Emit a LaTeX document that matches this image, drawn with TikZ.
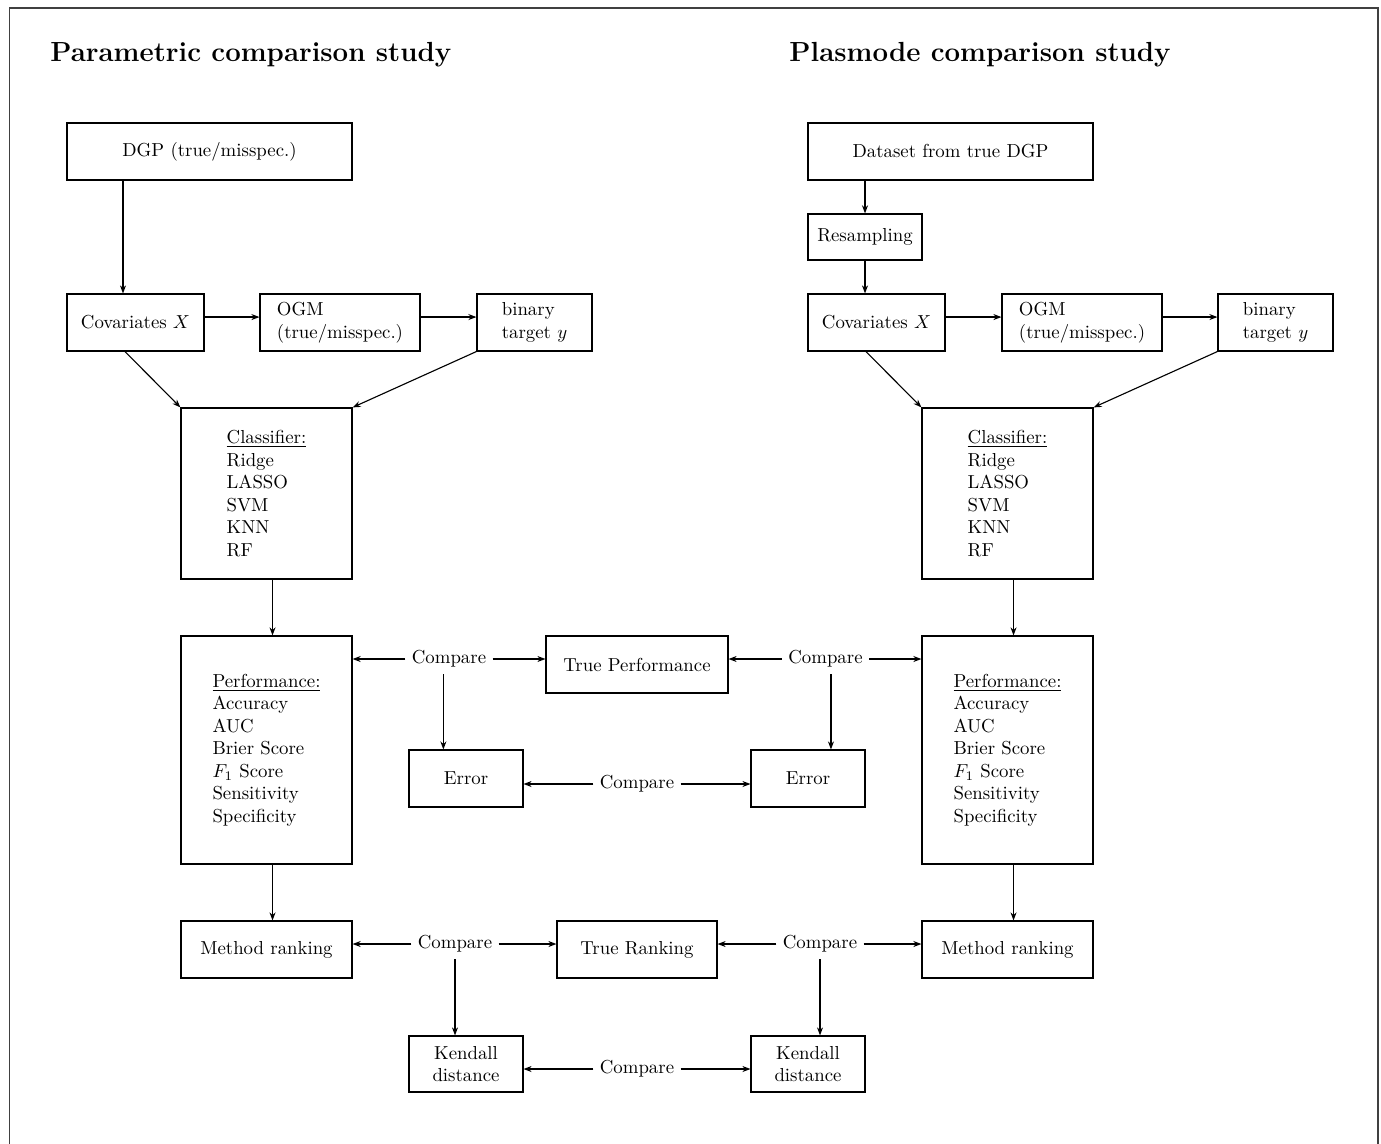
\documentclass[tikz,border=0pt]{standalone}
\usetikzlibrary{arrows.meta}
\begin{document}
\begin{tikzpicture}[x=0.532pt,y=-0.532pt,
  box/.style={draw,line width=0.6pt,inner sep=0pt,align=center},
  lbox/.style={box,align=left},
  arr/.style={-{Stealth[length=4.3pt,width=3.2pt]},line width=0.6pt},
  cmp/.style={inner sep=3.33pt},
  ttl/.style={font=\fontsize{14.7pt}{18pt}\selectfont\bfseries,inner sep=0pt,anchor=base west}]
\useasboundingbox (0,0) rectangle (1381,1143);
% frame
\draw[line width=0.7pt,black!75] (9.5,1150) -- (9.5,8) -- (1378,8) -- (1378,1150);
% titles
\node[ttl] (t1) at (50,62) {Parametric comparison study};
\node[ttl] (t2) at (789,62) {Plasmode comparison study};
% left column
\node[box,minimum width=151.6pt,minimum height=30.3pt] (dgp) at (209.5,151.5) {DGP (true/misspec.)};
\node[box,minimum width=72.9pt,minimum height=30.3pt] (covL) at (135.5,322.5) {Covariates $X$};
\node[lbox,minimum width=85.1pt,minimum height=30.3pt] (ogmL) at (340,322.5) {OGM\\(true/misspec.)};
\node[lbox,minimum width=61.2pt,minimum height=30.3pt] (binL) at (534.5,322.5) {binary\\target $y$};
\node[lbox,minimum width=91pt,minimum height=91pt] (clsL) at (266.5,493.5) {\underline{Classifier:}\\Ridge\\LASSO\\SVM\\KNN\\RF};
\node[lbox,minimum width=91pt,minimum height=121.3pt] (perfL) at (266.5,750) {\underline{Performance:}\\Accuracy\\AUC\\Brier Score\\$F_1$ Score\\Sensitivity\\Specificity};
\node[box,minimum width=91pt,minimum height=30.3pt] (mrL) at (266.5,949.5) {Method ranking};
% right column
\node[box,minimum width=151.6pt,minimum height=30.3pt] (ds) at (950.5,151.5) {Dataset from true DGP};
\node[box,minimum width=60.6pt,minimum height=24.5pt] (res) at (865,237) {Resampling};
\node[box,minimum width=72.9pt,minimum height=30.3pt] (covR) at (876.5,322.5) {Covariates $X$};
\node[lbox,minimum width=85.1pt,minimum height=30.3pt] (ogmR) at (1082,322.5) {OGM\\(true/misspec.)};
\node[lbox,minimum width=61.2pt,minimum height=30.3pt] (binR) at (1275.5,322.5) {binary\\target $y$};
\node[lbox,minimum width=91pt,minimum height=91pt] (clsR) at (1007.5,493.5) {\underline{Classifier:}\\Ridge\\LASSO\\SVM\\KNN\\RF};
\node[lbox,minimum width=91pt,minimum height=121.3pt] (perfR) at (1007.5,750) {\underline{Performance:}\\Accuracy\\AUC\\Brier Score\\$F_1$ Score\\Sensitivity\\Specificity};
\node[box,minimum width=91pt,minimum height=30.3pt] (mrR) at (1007.5,949.5) {Method ranking};
% middle
\node[box,minimum width=96.8pt,minimum height=30.3pt] (tp) at (637,664.5) {True Performance};
\node[box,minimum width=60.6pt,minimum height=30.3pt] (errL) at (466,778.5) {Error};
\node[box,minimum width=60.6pt,minimum height=30.3pt] (errR) at (808,778.5) {Error};
\node[box,minimum width=85.1pt,minimum height=30.3pt] (tr) at (637,949.5) {True Ranking};
\node[box,minimum width=60.6pt,minimum height=29.8pt] (kL) at (466,1064) {Kendall\\distance};
\node[box,minimum width=60.6pt,minimum height=29.8pt] (kR) at (808,1064) {Kendall\\distance};
% compare labels
\node[cmp] (c1) at (449,659) {Compare};
\node[cmp] (c2) at (825.5,659) {Compare};
\node[cmp] (c3) at (637,784) {Compare};
\node[cmp] (c4) at (455,944) {Compare};
\node[cmp] (c5) at (820,944) {Compare};
\node[cmp] (c6) at (637,1069) {Compare};
% left arrows
\draw[arr] ([xshift=-6.65pt]covL.north |- dgp.south) -- ([xshift=-6.65pt]covL.north);
\draw[arr] ([yshift=2.9pt]covL.east) -- ([yshift=2.9pt]covL.east -| ogmL.west);
\draw[arr] ([yshift=2.9pt]ogmL.east) -- ([yshift=2.9pt]ogmL.east -| binL.west);
\draw[arr] ([xshift=-5.6pt]covL.south) -- (clsL.north west);
\draw[arr] (binL.south west) -- (clsL.north east);
\draw[arr] ([xshift=3.2pt]clsL.south) -- ([xshift=3.2pt]perfL.north);
\draw[arr] ([xshift=3.2pt]perfL.south) -- ([xshift=3.2pt]mrL.north);
% right arrows
\draw[arr] (res.north |- ds.south) -- (res.north);
\draw[arr] (res.south) -- (res.south |- covR.north);
\draw[arr] ([yshift=2.9pt]covR.east) -- ([yshift=2.9pt]covR.east -| ogmR.west);
\draw[arr] ([yshift=2.9pt]ogmR.east) -- ([yshift=2.9pt]ogmR.east -| binR.west);
\draw[arr] ([xshift=-5.6pt]covR.south) -- (clsR.north west);
\draw[arr] (binR.south west) -- (clsR.north east);
\draw[arr] ([xshift=3.2pt]clsR.south) -- ([xshift=3.2pt]perfR.north);
\draw[arr] ([xshift=3.2pt]perfR.south) -- ([xshift=3.2pt]mrR.north);
% compare arrows
\draw[arr] (c1.west) -- (c1.west -| perfL.east);
\draw[arr] (c1.east) -- (c1.east -| tp.west);
\draw[arr] ([xshift=-3pt]c1.south) -- ([xshift=-3pt]c1.south |- errL.north);
\draw[arr] (c2.west) -- (c2.west -| tp.east);
\draw[arr] (c2.east) -- (c2.east -| perfR.west);
\draw[arr] ([xshift=2.9pt]c2.south) -- ([xshift=2.9pt]c2.south |- errR.north);
\draw[arr] (c3.west) -- (c3.west -| errL.east);
\draw[arr] (c3.east) -- (c3.east -| errR.west);
\draw[arr] (c4.west) -- (c4.west -| mrL.east);
\draw[arr] (c4.east) -- (c4.east -| tr.west);
\draw[arr] (c4.south) -- (c4.south |- kL.north);
\draw[arr] (c5.west) -- (c5.west -| tr.east);
\draw[arr] (c5.east) -- (c5.east -| mrR.west);
\draw[arr] (c5.south) -- (c5.south |- kR.north);
\draw[arr] (c6.west) -- (c6.west -| kL.east);
\draw[arr] (c6.east) -- (c6.east -| kR.west);
\end{tikzpicture}
\end{document}
